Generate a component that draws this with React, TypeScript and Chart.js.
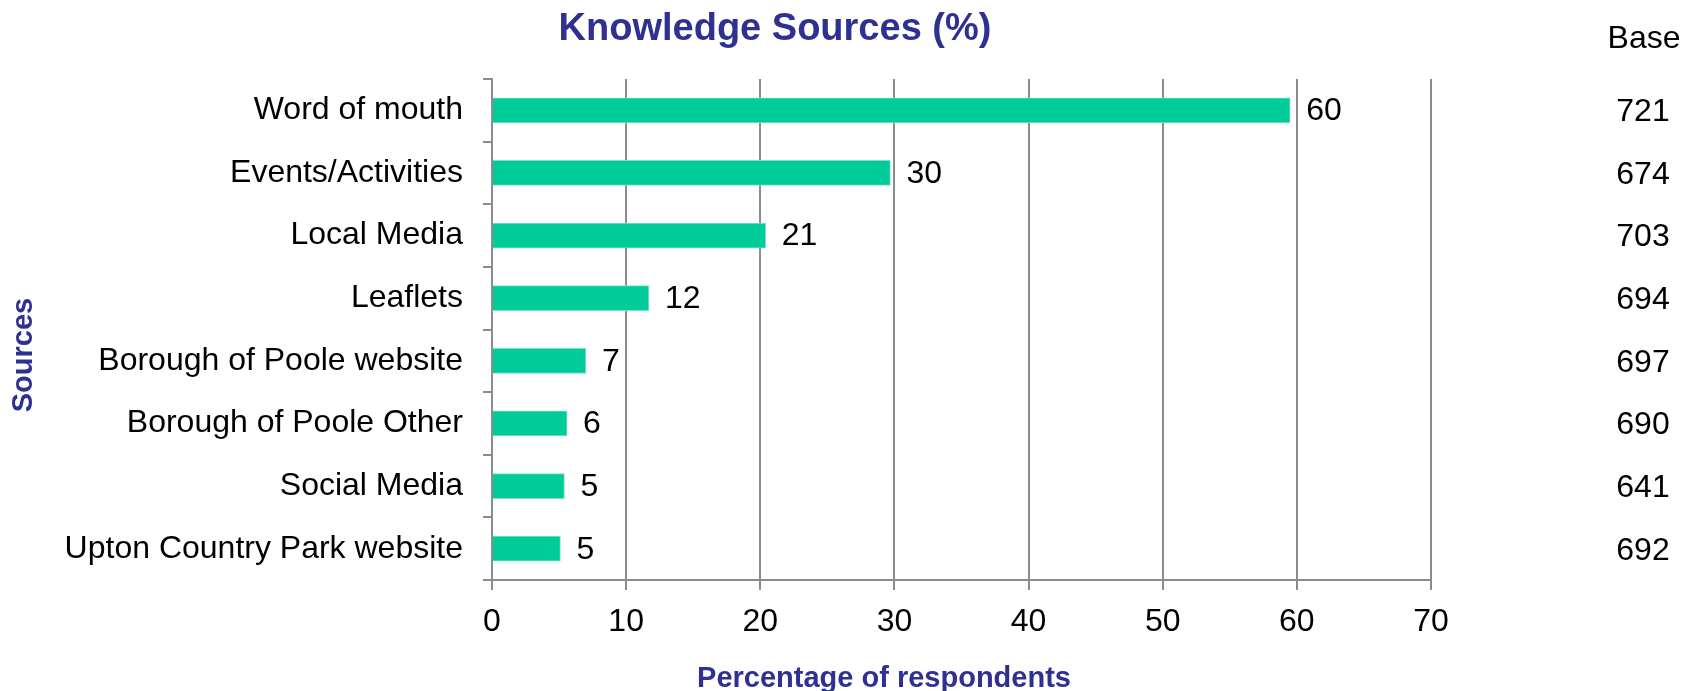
import React, { useEffect, useRef } from "react";
import { Chart, registerables } from "chart.js";

Chart.register(...registerables);

const categories = [
  "Word of mouth",
  "Events/Activities",
  "Local Media",
  "Leaflets",
  "Borough of Poole website",
  "Borough of Poole Other",
  "Social Media",
  "Upton Country Park website",
];
const values = [59.5, 29.7, 20.4, 11.7, 7.0, 5.6, 5.4, 5.1];
const valueLabels = ["60", "30", "21", "12", "7", "6", "5", "5"];
const baseValues = ["721", "674", "703", "694", "697", "690", "641", "692"];
const baseHeader = "Base";
const chartTitle = "Knowledge Sources (%)";
const xTitle = "Percentage of respondents";
const yTitle = "Sources";
const xMin = 0;
const xMax = 70;
const xStep = 10;

const FONT = '"Liberation Sans", Arial, Helvetica, sans-serif';
const BLUE = "#2E3192";
const GRID = "#8C8C8C";

const extrasPlugin = {
  id: "extras",
  afterDatasetsDraw(chart: any) {
    const ctx = chart.ctx;
    const meta = chart.getDatasetMeta(0);
    ctx.save();
    ctx.font = `32px ${FONT}`;
    ctx.fillStyle = "#000";
    ctx.textBaseline = "middle";
    ctx.textAlign = "left";
    meta.data.forEach((bar: any, i: number) => {
      ctx.fillText(valueLabels[i], bar.x + 16, bar.y + 1);
    });
    ctx.restore();
  },
  afterDraw(chart: any) {
    const ctx = chart.ctx;
    const yScale = chart.scales.y;
    ctx.save();
    // Base column
    ctx.font = `32px ${FONT}`;
    ctx.fillStyle = "#000";
    ctx.textAlign = "center";
    ctx.textBaseline = "middle";
    ctx.fillText(baseHeader, 1644, 39);
    baseValues.forEach((v, i) => {
      ctx.fillText(v, 1643, yScale.getPixelForValue(i) + 2);
    });
    // Titles
    ctx.fillStyle = BLUE;
    ctx.font = `bold 38px ${FONT}`;
    ctx.fillText(chartTitle, 775, 30);
    ctx.font = `bold 29px ${FONT}`;
    ctx.fillText(xTitle, 884, 679);
    ctx.translate(24, 355);
    ctx.rotate(-Math.PI / 2);
    ctx.fillText(yTitle, 0, 0);
    ctx.restore();
  },
};

export default function App() {
  const ref = useRef<HTMLCanvasElement>(null);
  useEffect(() => {
    if (!ref.current) return;
    const chart = new Chart(ref.current, {
      type: "bar",
      data: {
        labels: categories,
        datasets: [
          {
            data: values,
            backgroundColor: "#00CC99",
            borderColor: "#7FE3C8",
            borderWidth: 1,
            barThickness: 25,
          },
        ],
      },
      options: {
        indexAxis: "y",
        animation: false,
        responsive: false,
        devicePixelRatio: 1,
        layout: { padding: { top: 79, right: 261, left: 0, bottom: 0 } },
        plugins: {
          legend: { display: false },
          title: { display: false },
          tooltip: { enabled: false },
        },
        scales: {
          x: {
            type: "linear",
            min: xMin,
            max: xMax,
            ticks: {
              stepSize: xStep,
              color: "#000",
              font: { family: FONT, size: 32 },
              padding: 13,
            },
            grid: {
              color: GRID,
              lineWidth: 2,
              tickLength: 10,
              drawOnChartArea: true,
            },
            border: { display: true, color: GRID, width: 2 },
            afterFit(scale: any) {
              scale.height = 111;
            },
          },
          y: {
            type: "category",
            ticks: {
              color: "#000",
              font: { family: FONT, size: 32 },
              padding: 20,
            },
            grid: {
              display: true,
              drawOnChartArea: false,
              offset: true,
              color: GRID,
              lineWidth: 2,
              tickLength: 9,
            },
            border: { display: true, color: GRID, width: 2 },
            afterFit(scale: any) {
              scale.width = 492;
            },
          },
        },
      },
      plugins: [extrasPlugin],
    } as any);
    return () => chart.destroy();
  }, []);
  return (
    <div style={{ position: "absolute", left: 0, top: 0, width: 1692, height: 691, background: "#fff" }}>
      <canvas ref={ref} width={1692} height={691} style={{ display: "block" }} />
    </div>
  );
}
